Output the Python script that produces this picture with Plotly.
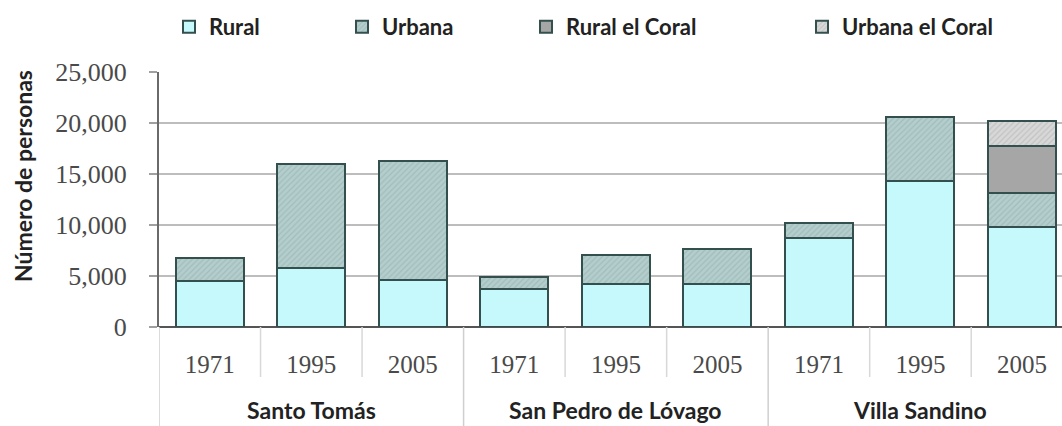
import plotly.graph_objects as go

# ---- data ----
groups = ["Santo Tomás", "San Pedro de Lóvago", "Villa Sandino"]
years = ["1971", "1995", "2005"]
series_names = ["Rural", "Urbana", "Rural el Coral", "Urbana el Coral"]

rural = [4500, 5800, 4650, 3750, 4250, 4180, 8700, 14340, 9800]
urbana = [2300, 10150, 11650, 1110, 2850, 3470, 1500, 6250, 3300]
rural_coral = [None, None, None, None, None, None, None, None, 4650]
urbana_coral = [None, None, None, None, None, None, None, None, 2450]

y_ticks = [0, 5000, 10000, 15000, 20000, 25000]
y_title = "Número de personas"

# ---- layout constants ----
W, H = 1062, 426
L, T, B = 159, 72, 99
plot_w = W - L
plot_h = H - T - B

n = len(groups) * len(years)
x_idx = list(range(n))
tick_text = [y for _ in groups for y in years]

fills = ["#c6f9fb", "#b4cdcd", "#a6a6a6", "#d8d8d8"]
pat_fg = [None, "#a2bcbc", None, "#c2c2c2"]
outline = "#33504f"

values = [rural, urbana, rural_coral, urbana_coral]
legend_ids = ["legend", "legend2", "legend3", "legend4"]
legend_text_x = [209, 382, 566, 842]

fig = go.Figure()
for i, (name, vals) in enumerate(zip(series_names, values)):
    marker = dict(color=fills[i], line=dict(color=outline, width=2))
    if pat_fg[i]:
        marker["pattern"] = dict(shape="/", fgcolor=pat_fg[i], bgcolor=fills[i],
                                 size=4, solidity=0.3, fillmode="replace")
    fig.add_trace(go.Bar(x=x_idx, y=vals, name=name, marker=marker,
                         width=0.67, legend=legend_ids[i], showlegend=True))

legend_font = dict(family="Lato", size=22, color="#222222", weight="bold")
for i, lid in enumerate(legend_ids):
    fig.update_layout({lid: dict(
        x=(legend_text_x[i] - 40) / W, xref="container", xanchor="left",
        y=1 - 27 / H, yref="container", yanchor="middle",
        orientation="h", font=legend_font, bgcolor="rgba(0,0,0,0)",
        borderwidth=0, itemclick=False, visible=True)})

shapes = []
# year dividers (short) and group dividers (long)
for k in range(n + 1):
    xb = k - 0.5
    if k % len(years) == 0:
        y1 = -(H - (T + plot_h)) / plot_h
        color = "#cfcfcf"
    else:
        y1 = -50 / plot_h
        color = "#d8d8d8"
    shapes.append(dict(type="line", xref="x", yref="paper", x0=xb, x1=xb,
                       y0=0, y1=y1, line=dict(color=color, width=1.5)))

annotations = []
for gi, g in enumerate(groups):
    annotations.append(dict(
        x=gi * len(years) + (len(years) - 1) / 2, xref="x",
        y=-(410 - (T + plot_h)) / plot_h, yref="paper",
        text=g, showarrow=False, yanchor="middle", xanchor="center",
        font=dict(family="Lato", size=23, color="#222222", weight="bold")))
annotations.append(dict(
    x=(23 - L) / plot_w, xref="paper", y=((T + plot_h) - 176) / plot_h, yref="paper",
    text=y_title, textangle=-90, showarrow=False, xanchor="center", yanchor="middle",
    font=dict(family="Lato", size=23, color="#222222", weight="bold")))

fig.update_layout(
    width=W, height=H,
    margin=dict(l=L, r=0, t=T, b=B, pad=0),
    barmode="stack",
    showlegend=True,
    plot_bgcolor="white", paper_bgcolor="white",
    shapes=shapes, annotations=annotations,
    xaxis=dict(range=[-0.5, (W - 210) / 101.5], tickmode="array",
               tickvals=x_idx, ticktext=tick_text, showgrid=False,
               zeroline=False, showline=False, ticks="",
               tickfont=dict(family="Liberation Serif", size=25, color="#4a4a4a"),
               ticklabelstandoff=20, fixedrange=True),
    yaxis=dict(range=[0, 25000], tickvals=y_ticks, tickformat=",d",
               showgrid=True, gridcolor="#bdbdbd", gridwidth=1.5,
               showline=True, linecolor="#6a6a6a", linewidth=2,
               ticks="outside", ticklen=8, tickcolor="#a0a0a0", tickwidth=1.5,
               zeroline=True, zerolinecolor="#555555", zerolinewidth=2,
               tickfont=dict(family="Liberation Serif", size=26, color="#4a4a4a"),
               ticklabelstandoff=17, fixedrange=True),
    font=dict(family="Lato"),
)

fig.write_html("out.html")
